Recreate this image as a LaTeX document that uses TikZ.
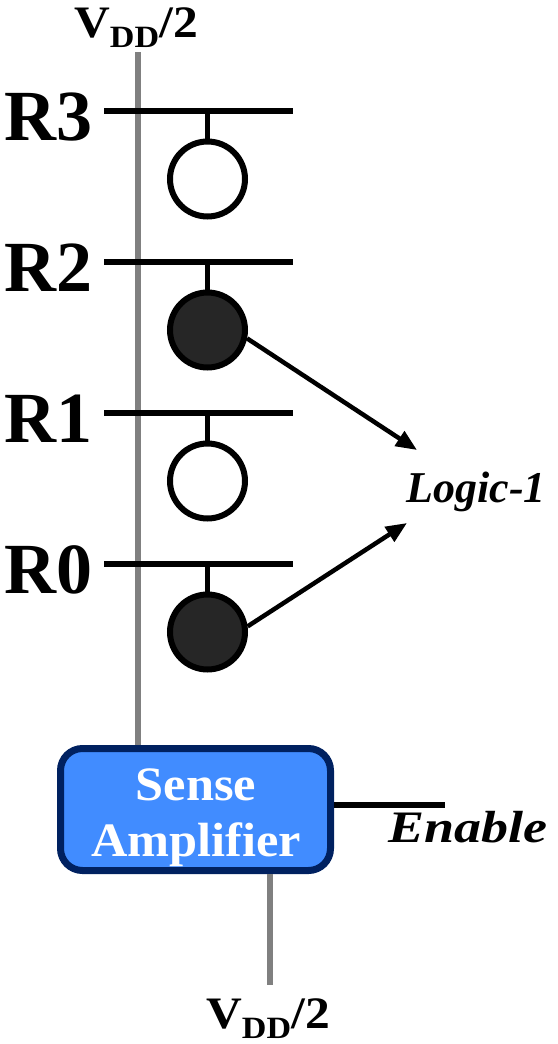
\documentclass[tikz,border=0pt]{standalone}
\usepackage{fontspec}
\setmainfont{Liberation Serif}
\usetikzlibrary{arrows.meta}
\definecolor{railgray}{RGB}{128,128,128}
\definecolor{cellfill}{RGB}{38,38,38}
\definecolor{sabody}{RGB}{65,140,255}
\definecolor{saedge}{RGB}{0,33,96}
\begin{document}
\begin{tikzpicture}[x=1pt,y=-1pt,
  wordline/.style={line width=6pt},
  rail/.style={draw=railgray, line width=6pt},
  stem/.style={line width=5pt},
  cellempty/.style={circle, draw, line width=6pt, fill=white, minimum size=75pt, inner sep=0pt},
  cellfull/.style={cellempty, fill=cellfill},
  rowlabel/.style={anchor=base west, inner sep=0pt, font=\fontsize{72}{72}\selectfont\bfseries},
  vlabel/.style={anchor=base, inner sep=0pt, font=\fontsize{45}{45}\selectfont\bfseries},
  pointer/.style={line width=4.5pt, -{Triangle[length=21pt,width=17pt]}},
  samp/.style={draw=saedge, fill=sabody, line width=7pt, rounded corners=22pt,
    minimum width=270pt, minimum height=122pt},
  satext/.style={anchor=base, inner sep=0pt, text=white, font=\fontsize{48}{48}\selectfont\bfseries},
  italiclabel/.style={inner sep=0pt, font=\fontsize{44}{44}\selectfont\bfseries\itshape}
]
\useasboundingbox (0,0) rectangle (557,1044);

% supply labels
\newcommand{\vhalf}{\scalebox{1.1}[1]{V\raisebox{-10pt}{\fontsize{31}{31}\selectfont DD}/2}}
\node[vlabel] (vtop) at (136,37) {\vhalf};
\node[vlabel] (vbot) at (268,1028) {\vhalf};

% sense amplifier
\node[samp] (sa) at (195.5,809.5) {};
\node[satext] (sa1) at (196,800) {\scalebox{1.05}[1]{Sense}};
\node[satext] (sa2) at (196,856) {\scalebox{1.05}[1]{Amplifier}};

% bit line rails
\coordinate (railtop) at (138,52);
\coordinate (railbot) at (270,985);
\draw[rail] (railtop) -- (railtop |- sa.north);
\draw[rail] (sa.south -| railbot) -- (railbot);

% enable line
\coordinate (enend) at (445,805);
\draw[line width=6pt] (sa.east |- enend) -- (enend);
\node[italiclabel, anchor=base west, font=\fontsize{45}{45}\selectfont\bfseries\itshape] (en) at (388,842) {\scalebox{1.2}[1]{Enable}};

% rows: word lines, stems and cells
\foreach \name/\y/\kind in {3/111/cellempty, 2/262/cellfull, 1/413/cellempty, 0/564/cellfull}{
  \coordinate (wlA\name) at (104,\y);
  \coordinate (wlB\name) at (293,\y);
  \draw[wordline] (wlA\name) -- (wlB\name);
  \node[\kind] (c\name) at (207.5,\y+68) {};
  \draw[stem] (207.5,\y) -- (c\name.north);
  \node[rowlabel] (r\name) at (4,\y+29) {R\name};
}

% logic-1 pointers
\node[italiclabel, anchor=base] (logic) at (476,502) {Logic-1};
\coordinate (tipA) at (417,450);
\coordinate (tipB) at (407,523);
\draw[pointer] (c2.-12) -- (tipA);
\draw[pointer] (c0.8) -- (tipB);
\end{tikzpicture}
\end{document}
